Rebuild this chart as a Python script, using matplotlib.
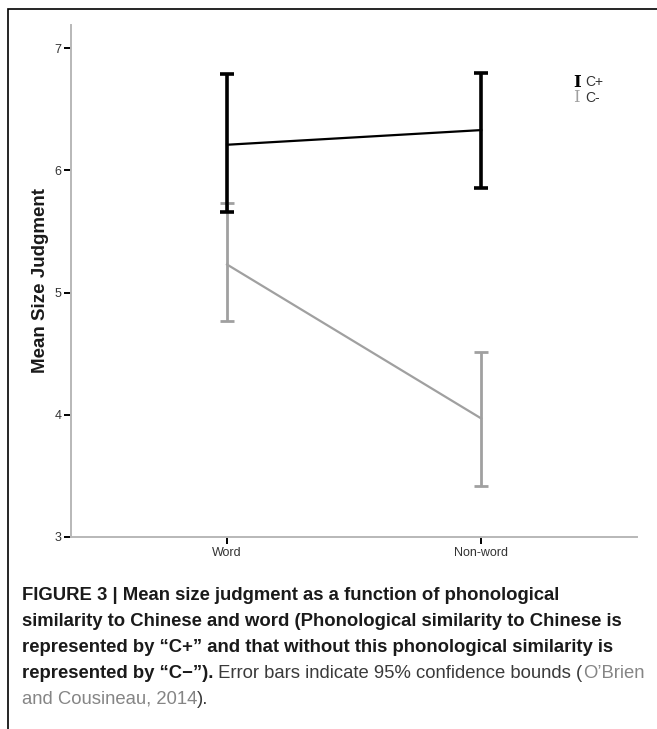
import matplotlib
matplotlib.use('Agg')
import matplotlib.pyplot as plt
from matplotlib.patches import Rectangle

categories = ['Word', 'Non-word']
cplus_mean = [6.21, 6.33]
cplus_low = [5.66, 5.86]
cplus_high = [6.79, 6.80]
cminus_mean = [5.23, 3.97]
cminus_low = [4.77, 3.42]
cminus_high = [5.73, 4.51]
yticks = [3, 4, 5, 6, 7]

plt.rcParams['font.family'] = ['Liberation Sans', 'DejaVu Sans']

fig = plt.figure(figsize=(6.57, 7.29), dpi=100)
ax = fig.add_axes([0.108, 0.2634, 0.862, 0.7023])

x = range(len(categories))
grey = '#a0a0a0'

def draw(mean, low, high, color, lw, elw):
    err = [[m - l for m, l in zip(mean, low)], [h - m for m, h in zip(mean, high)]]
    ax.errorbar(x, mean, yerr=err, color=color, lw=lw, elinewidth=elw,
                capsize=5, capthick=elw)

draw(cminus_mean, cminus_low, cminus_high, grey, 1.6, 2.0)
draw(cplus_mean, cplus_low, cplus_high, 'black', 1.6, 2.6)

ax.set_xlim(-0.614, 1.614)
ax.set_ylim(3, 7.19)
ax.set_xticks(list(x))
ax.set_xticklabels(categories)
ax.set_yticks(yticks)
for s in ['top', 'right']:
    ax.spines[s].set_visible(False)
for s in ['left', 'bottom']:
    ax.spines[s].set_color('#b8b8b8')
    ax.spines[s].set_linewidth(1.4)
ax.tick_params(axis='both', colors='black', labelcolor='#333333', labelsize=9,
               length=5, width=1.4, pad=2)
ax.set_ylabel('Mean Size Judgment', fontsize=13.5, fontweight='bold', labelpad=4,
              color='#1a1a1a')

# legend with I-shaped markers
ax.text(0.893, 0.888, 'I', transform=ax.transAxes, fontsize=12, fontweight='bold',
        family='DejaVu Serif', color='black', ha='center', va='center')
ax.text(0.908, 0.888, 'C+', transform=ax.transAxes, fontsize=10, color='#333333', va='center')
ax.text(0.893, 0.858, 'I', transform=ax.transAxes, fontsize=12,
        family='DejaVu Serif', color=grey, ha='center', va='center')
ax.text(0.908, 0.858, 'C-', transform=ax.transAxes, fontsize=10, color='#333333', va='center')

# frame around figure
fig.patches.append(Rectangle((8 / 657, -0.1), 1.0, 1.1 - 9 / 729, transform=fig.transFigure,
                             fill=False, edgecolor='black', lw=1.2))

# caption with mixed styles
lines = [
    [("FIGURE 3 | Mean size judgment as a function of phonological", 'bold', '#1a1a1a')],
    [("similarity to Chinese and word (Phonological similarity to Chinese is", 'bold', '#1a1a1a')],
    [("represented by \u201cC+\u201d and that without this phonological similarity is", 'bold', '#1a1a1a')],
    [("represented by \u201cC\u2212\u201d).", 'bold', '#1a1a1a'),
     (" Error bars indicate 95% confidence bounds (", 'normal', '#3a3a3a'),
     ("O\u2019Brien", 'normal', '#858585')],
    [("and Cousineau, 2014", 'normal', '#858585'), (").", 'normal', '#3a3a3a')],
]
renderer = fig.canvas.get_renderer()
y0 = 1 - 600 / 729
dy = 26 / 729
for i, runs in enumerate(lines):
    xpos = 22 / 657
    for txt, weight, col in runs:
        t = fig.text(xpos, y0 - i * dy, txt, fontsize=13.3, fontweight=weight, color=col,
                     va='baseline', ha='left')
        bb = t.get_window_extent(renderer=renderer)
        xpos += bb.width / fig.bbox.width

fig.savefig('out.png', dpi=100)
